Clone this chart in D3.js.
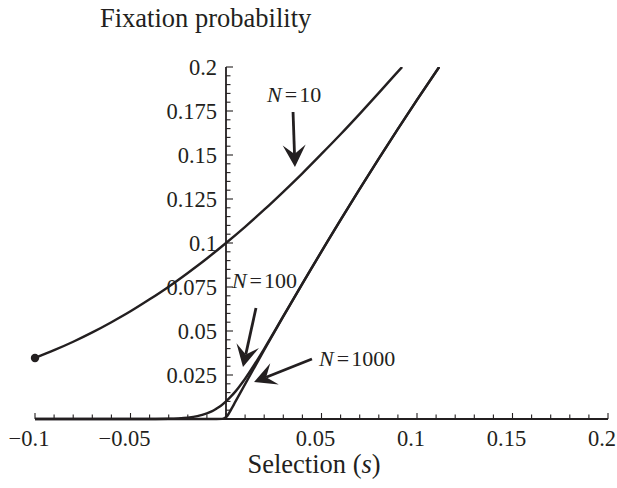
<!DOCTYPE html>
<html>
<head>
<meta charset="utf-8">
<script src="https://cdn.jsdelivr.net/npm/d3@7"></script>
<style>
  body { margin: 0; background: #fff; }
  text { font-family: "Liberation Serif", "Times New Roman", serif; fill: #231f20; }
</style>
</head>
<body>
<svg id="chart" width="617" height="488"></svg>
<script>
// ========= Data ========= //
const s10 = [-0.1, -0.09, -0.08, -0.07, -0.06, -0.05, -0.04, -0.03, -0.02, -0.01, 0,
  0.01, 0.02, 0.03, 0.04, 0.05, 0.06, 0.07, 0.08, 0.09, 0.0922];
const p10 = [0.0347, 0.0391, 0.0439, 0.0492, 0.0550, 0.0612, 0.0680, 0.0752, 0.0830, 0.0912, 0.1,
  0.1092, 0.1189, 0.1291, 0.1396, 0.1506, 0.1618, 0.1734, 0.1853, 0.1974, 0.2];

const s100 = [-0.1, -0.05, -0.04, -0.03, -0.025, -0.02, -0.015, -0.01, -0.0075, -0.005, -0.0025, 0,
  0.0025, 0.005, 0.0075, 0.01, 0.015, 0.02, 0.03, 0.04, 0.06, 0.08, 0.1, 0.1116];
const p100 = [0, 0, 0.00003, 0.00015, 0.00035, 0.00076, 0.0016, 0.0032, 0.0043, 0.0059, 0.0077, 0.01,
  0.0127, 0.0157, 0.0192, 0.0229, 0.0311, 0.0399, 0.0584, 0.0769, 0.1131, 0.1479, 0.1813, 0.2];

const s1000 = [-0.1, -0.005, -0.002, -0.001, 0, 0.001, 0.002, 0.003, 0.005, 0.01, 0.02, 0.04,
  0.06, 0.08, 0.1, 0.1116];
const p1000 = [0, 0, 0.00007, 0.0003, 0.001, 0.0023, 0.0041, 0.0060, 0.0100, 0.0198, 0.0392, 0.0769,
  0.1131, 0.1479, 0.1813, 0.2];

const xTickLabels = [-0.1, -0.05, 0.05, 0.1, 0.15, 0.2];
const yTickLabels = [0.025, 0.05, 0.075, 0.1, 0.125, 0.15, 0.175, 0.2];

// annotations: label anchor and arrow (start -> tip), in data units
const notes = [
  { n: '10',   at: [0.0215, 0.180],  from: [0.0351, 0.1744], to: [0.0361, 0.1432] },
  { n: '100',  at: [0.0031, 0.0744], from: [0.0157, 0.0631], to: [0.0089, 0.0295] },
  { n: '1000', at: [0.0487, 0.0301], from: [0.0450, 0.0341], to: [0.0147, 0.0210] }
];

// ========= Setup ========= //
const svg = d3.select('#chart');
const ink = '#231f20';

const x = d3.scaleLinear().domain([-0.1, 0.2]).range([35, 608]);
const y = d3.scaleLinear().domain([0, 0.2]).range([419, 67]);

svg.append('clipPath').attr('id', 'plot-clip')
  .append('rect').attr('x', 0).attr('y', y(0.2)).attr('width', 617).attr('height', 420);

const fmt = d => (d < 0 ? '\u2212' : '') + String(Math.abs(d));

// ========= Axes ========= //
const xAxis = svg.append('g').attr('class', 'x-axis');
xAxis.append('line')
  .attr('x1', x(-0.1)).attr('x2', x(0.2))
  .attr('y1', y(0)).attr('y2', y(0))
  .attr('stroke', ink).attr('stroke-width', 1.8);

xAxis.selectAll('.xtick')
  .data(d3.range(-10, 21).map(i => i / 100))
  .join('line')
    .attr('x1', d => x(d)).attr('x2', d => x(d))
    .attr('y1', y(0))
    .attr('y2', (d, i) => y(0) - (i % 5 === 0 ? 6 : 4.5))
    .attr('stroke', ink).attr('stroke-width', 1.1);

xAxis.selectAll('.xlabel')
  .data(xTickLabels)
  .join('text')
    .attr('x', d => x(d) - 6)
    .attr('y', 446)
    .attr('text-anchor', 'middle')
    .attr('font-size', '22.5px')
    .text(fmt);

const yAxis = svg.append('g').attr('class', 'y-axis');
yAxis.append('line')
  .attr('x1', x(0)).attr('x2', x(0))
  .attr('y1', y(0)).attr('y2', y(0.2))
  .attr('stroke', ink).attr('stroke-width', 1.8);

yAxis.selectAll('.ytick')
  .data(d3.range(1, 41).map(i => i * 0.005))
  .join('line')
    .attr('x1', x(0))
    .attr('x2', (d, i) => x(0) + ((i + 1) % 5 === 0 ? 7 : 4.5))
    .attr('y1', d => y(d)).attr('y2', d => y(d))
    .attr('stroke', ink).attr('stroke-width', 1.1);

yAxis.selectAll('.ylabel')
  .data(yTickLabels)
  .join('text')
    .attr('x', x(0) - 9)
    .attr('y', d => y(d) + 7.5)
    .attr('text-anchor', 'end')
    .attr('font-size', '22.5px')
    .text(fmt);

// ========= Titles ========= //
svg.append('text')
  .attr('x', 100).attr('y', 27)
  .attr('font-size', '26.5px')
  .text('Fixation probability');

const xTitle = svg.append('text')
  .attr('x', 314).attr('y', 473)
  .attr('text-anchor', 'middle')
  .attr('font-size', '26.5px');
xTitle.append('tspan').text('Selection (');
xTitle.append('tspan').attr('font-style', 'italic').text('s');
xTitle.append('tspan').text(')');

// ========= Curves ========= //
const line = d3.line()
  .x(d => x(d[0]))
  .y(d => y(d[1]))
  .curve(d3.curveMonotoneX);

const series = [
  d3.zip(s10, p10),
  d3.zip(s100, p100),
  d3.zip(s1000, p1000)
];

svg.append('g')
  .attr('clip-path', 'url(#plot-clip)')
  .selectAll('path')
  .data(series)
  .join('path')
    .attr('d', line)
    .attr('fill', 'none')
    .attr('stroke', ink)
    .attr('stroke-width', 2.4)
    .attr('stroke-linejoin', 'round');

svg.append('circle')
  .attr('cx', x(s10[0])).attr('cy', y(p10[0]))
  .attr('r', 4.2)
  .attr('fill', ink);

// ========= Labels and arrows ========= //
const ann = svg.append('g').attr('class', 'notes');

notes.forEach(d => {
  const t = ann.append('text')
    .attr('x', x(d.at[0])).attr('y', y(d.at[1]))
    .attr('font-size', '22px');
  t.append('tspan').attr('font-style', 'italic').text('N');
  t.append('tspan').attr('dx', 3).text('=');
  t.append('tspan').attr('dx', 2).text(d.n);

  const x1 = x(d.from[0]), y1 = y(d.from[1]);
  const x2 = x(d.to[0]), y2 = y(d.to[1]);
  const a = Math.atan2(y2 - y1, x2 - x1);
  const ca = Math.cos(a), sa = Math.sin(a);
  const pt = (back, side) => [x2 - back * ca - side * sa, y2 - back * sa + side * ca];

  const notch = pt(13, 0);
  ann.append('line')
    .attr('x1', x1).attr('y1', y1)
    .attr('x2', notch[0]).attr('y2', notch[1])
    .attr('stroke', ink).attr('stroke-width', 2.8);

  ann.append('path')
    .attr('d', d3.line()([[x2, y2], pt(22, 11.5), notch, pt(22, -11.5)]) + 'Z')
    .attr('fill', ink);
});
</script>
</body>
</html>
